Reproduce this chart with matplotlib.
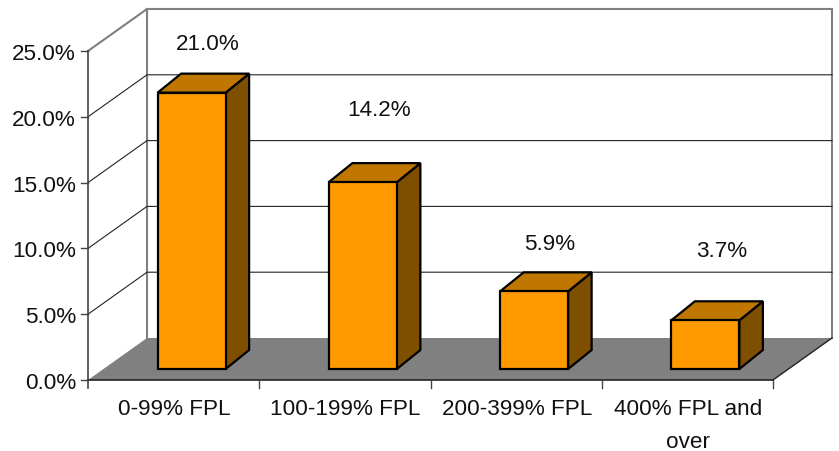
import matplotlib
matplotlib.use("Agg")
import matplotlib.pyplot as plt
from matplotlib.patches import Polygon

categories = ["0-99% FPL", "100-199% FPL", "200-399% FPL", "400% FPL and\nover"]
values = [21.0, 14.2, 5.9, 3.7]
yticks = [0, 5, 10, 15, 20, 25]

# how far each value label sits above its bar, pixels
label_lift = [49, 73, 48, 70]

plt.rcParams['font.family'] = ['Liberation Sans', 'DejaVu Sans']

# pixel space, y goes down like in the picture
fig = plt.figure(figsize=(8.39, 4.52), dpi=100)
ax = fig.add_axes([0, 0, 1, 1])
ax.set_xlim(0, 839)
ax.set_ylim(452, 0)
ax.axis('off')

x0, y0 = 88, 381
dx, dy = 59, -42
x_end = 773
px = 13.16  # pixels per percent
bar_base = 370
bar_w = 68
ddx, ddy = 23.5, -19
gray = '#808080'
label_size = 16.2

# floor
ax.add_patch(Polygon([(x0, y0), (x0+dx, y0+dy), (x_end+dx, y0+dy), (x_end, y0)],
                     facecolor=gray, edgecolor='none', zorder=1))
ax.plot([x_end, x_end+dx], [y0, y0+dy], color='#222222', lw=1, zorder=2)

# walls
top = y0 - 25*px
ax.plot([x0+dx, x0+dx], [y0+dy, top+dy], color=gray, lw=1.5, zorder=1)
ax.plot([x_end+dx, x_end+dx], [y0+dy, top+dy], color=gray, lw=1.5, zorder=1)
ax.plot([x0, x0+dx, x_end+dx], [top, top+dy, top+dy], color=gray, lw=1.5, zorder=1)

for t in yticks[1:-1]:
    y = y0 - t*px
    ax.plot([x0, x0+dx, x_end+dx], [y, y+dy, y+dy], color='#222222', lw=0.8, zorder=1)

# front axes
ax.plot([x0, x0], [top, y0+8], color='#444444', lw=1.2, zorder=3)
ax.plot([x0, x_end], [y0, y0], color='#222222', lw=1.2, zorder=3)
ax.plot([x_end, x_end], [y0, y0+8], color='#444444', lw=1.0, zorder=3)
for t in yticks:
    y = y0 - t*px
    ax.plot([x0-7, x0], [y, y], color='#444444', lw=1.0, zorder=3)
    ax.text(76, y + 2.5, f"{t:.1f}%", ha='right', va='center', fontsize=label_size, color='#111111')

# category ticks and labels
n = len(categories)
step = (x_end - x0) / n
for i, cat in enumerate(categories):
    if i > 0:
        xt = x0 + i*step
        ax.plot([xt, xt], [y0, y0+8], color='#444444', lw=1.0, zorder=3)
    ax.text(x0 + (i+0.5)*step + 0.5, 399, cat, ha='center', va='top', fontsize=label_size,
            color='#111111', linespacing=1.75)

# bars
for i, v in enumerate(values):
    mid = x0 + (i+0.5)*step + 18
    l, r = mid - bar_w/2, mid + bar_w/2
    t = bar_base - v*px
    ax.add_patch(Polygon([(r, bar_base), (r+ddx, bar_base+ddy), (r+ddx, t+ddy), (r, t)],
                         facecolor='#7f4f00', edgecolor='black', lw=1.6, joinstyle='miter', zorder=4))
    ax.add_patch(Polygon([(l, t), (l+ddx, t+ddy), (r+ddx, t+ddy), (r, t)],
                         facecolor='#bf7700', edgecolor='black', lw=1.6, joinstyle='miter', zorder=4))
    ax.add_patch(Polygon([(l, bar_base), (r, bar_base), (r, t), (l, t)],
                         facecolor='#ff9900', edgecolor='black', lw=1.6, joinstyle='miter', zorder=5))
    ax.text(mid + 16, t - label_lift[i], f"{v:.1f}%", ha='center', va='center',
            fontsize=label_size, color='#111111', zorder=6)

fig.savefig("out.png", dpi=100)
